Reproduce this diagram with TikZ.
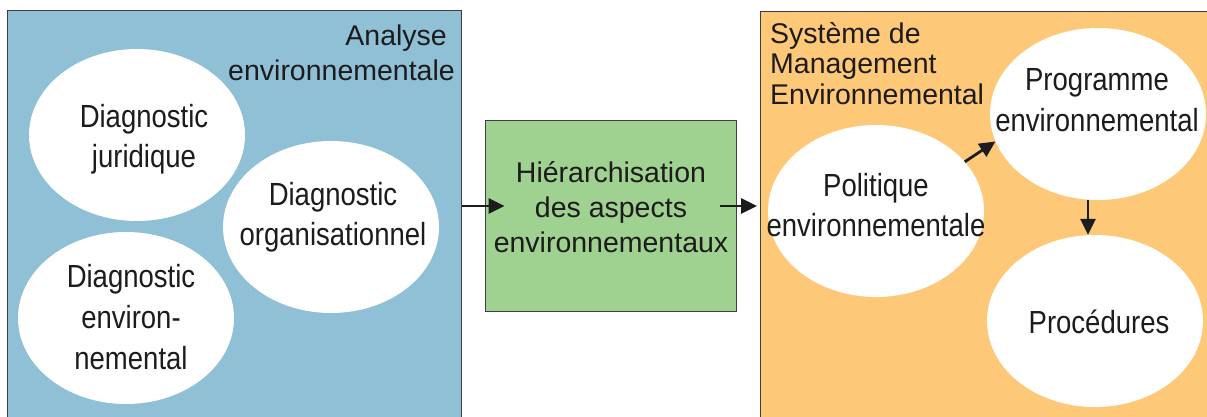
\documentclass[tikz,border=0pt]{standalone}
\usepackage{fontspec}
\setmainfont{Liberation Sans}
\newfontfamily\narrowfont[FakeStretch=0.86]{Liberation Sans}
\usetikzlibrary{shapes.geometric,arrows.meta}
\definecolor{boxblue}{RGB}{143,192,214}
\definecolor{boxgreen}{RGB}{159,209,145}
\definecolor{boxorange}{RGB}{254,200,121}
\definecolor{ink}{RGB}{30,27,28}
\begin{document}
\begin{tikzpicture}[x=1pt,y=-1pt,
  panel/.style={draw=ink!85,line width=1pt,inner sep=0pt},
  blob/.style={ellipse,fill=white,minimum width=216pt,minimum height=172pt,inner sep=0pt},
  blobtext/.style={inner sep=0pt,align=center,text=ink,font=\narrowfont\fontsize{32}{40}\selectfont},
  arr/.style={draw=ink,line width=2.8pt,-{Triangle[length=16pt,width=15pt]}},
  title/.style={inner sep=0pt,text=ink,font=\fontsize{28.5}{35}\selectfont}]
\useasboundingbox (0,0) rectangle (1207,417);
\clip (0,0) rectangle (1207,417);
% panels
\node[panel,fill=boxblue,anchor=north west,minimum width=454pt,minimum height=420pt] (left) at (7,10) {};
\node[panel,fill=boxorange,anchor=north west,minimum width=460pt,minimum height=420pt] (right) at (760,11) {};
\node[panel,fill=boxgreen,minimum width=251pt,minimum height=190pt] (mid) at (610.5,216) {};
% titles
\node[title,anchor=north east,align=right] (ttlA) at (455,24.2) {Analyse\hspace*{8pt}\\environnementale};
\node[title,anchor=north west,align=left,font=\fontsize{28.5}{30.5}\selectfont] (ttlS) at (770,22.2) {Système de\\Management\\Environnemental};
\node[title,align=center] (midtxt) at (611,207.6) {Hiérarchisation\\des aspects\\environnementaux};
% left ellipses
\node[blob] (jur) at (137,135) {};
\node[blob] (org) at (331,227) {};
\node[blob] (env) at (126,318) {};
\node[blobtext] (jurT) at (144,139) {Diagnostic\\juridique};
\node[blobtext] (orgT) at (333,217) {Diagnostic\\organisationnel};
\node[blobtext,font=\narrowfont\fontsize{32}{41}\selectfont] (envT) at (131,317) {Diagnostic\\environ-\\nemental};
% right ellipses
\node[blob] (pol) at (876,211) {};
\node[blob] (prog) at (1098,114) {};
\node[blob] (proc) at (1095,321) {};
\node[blobtext] (polT) at (876,205) {Politique\\environnementale};
\node[blobtext,font=\narrowfont\fontsize{32}{41}\selectfont] (progT) at (1097,100) {Programme\\environnemental};
\node[blobtext,anchor=base] (procT) at (1099,333) {Procédures};
% arrows
\draw[arr] ([yshift=10pt]mid.west -| left.east) -- ([xshift=20pt,yshift=10pt]mid.west);
\draw[arr] ([xshift=-17pt,yshift=10pt]mid.east) -- ([xshift=-3pt,yshift=10pt]mid.east -| right.west);
\draw[arr] (pol.29) -- (prog.195);
\draw[arr] ([xshift=-10pt]prog.south) -- ([xshift=-10pt]prog.south |- proc.north);
\end{tikzpicture}
\end{document}
